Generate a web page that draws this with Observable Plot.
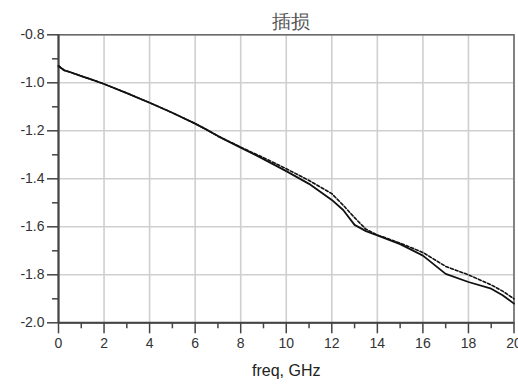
<!DOCTYPE html>
<html><head><meta charset="utf-8">
<script src="https://cdn.jsdelivr.net/npm/d3@7"></script>
<script src="https://cdn.jsdelivr.net/npm/@observablehq/plot@0.6"></script>
<style>html,body{margin:0;padding:0;background:#fff;}</style>
</head><body><div id="chart"></div>
<script>
const title = "插损";
const xLabel = "freq, GHz";
const freq = [0,0.1,0.25,0.5,1,1.5,2,3,4,5,6,6.5,7,8,9,10,11,12,12.5,13,13.5,14,15,16,17,18,19,19.5,20];
const solid = [-0.930,-0.937,-0.948,-0.955,-0.972,-0.988,-1.005,-1.043,-1.083,-1.125,-1.170,-1.195,-1.222,-1.270,-1.318,-1.368,-1.421,-1.488,-1.530,-1.592,-1.618,-1.636,-1.672,-1.720,-1.796,-1.830,-1.858,-1.885,-1.920];
const dashed = [-0.930,-0.937,-0.948,-0.955,-0.972,-0.988,-1.005,-1.043,-1.083,-1.125,-1.170,-1.195,-1.222,-1.268,-1.312,-1.358,-1.407,-1.462,-1.510,-1.562,-1.610,-1.634,-1.668,-1.707,-1.765,-1.800,-1.842,-1.868,-1.900];
const xMajor = [0,2,4,6,8,10,12,14,16,18,20];
const xMinor = [1,3,5,7,9,11,13,15,17,19];
const yMajor = [-0.8,-1.0,-1.2,-1.4,-1.6,-1.8,-2.0];
const yMinor = [-0.9,-1.1,-1.3,-1.5,-1.7,-1.9];

const solidData = freq.map((f,i)=>({f, v: solid[i]}));
const dashedData = freq.map((f,i)=>({f, v: dashed[i]}));

const chart = Plot.plot({
  width: 518, height: 389,
  marginLeft: 58, marginRight: 4.5, marginTop: 34.3, marginBottom: 66.7,
  style: {fontFamily: "'Liberation Sans', Arial, sans-serif", color: "#333", background: "#fff"},
  x: {domain: [0,20]},
  y: {domain: [-2.0,-0.8]},
  marks: [
    Plot.gridX(xMajor, {stroke: "#cfcfcf", strokeOpacity: 1, strokeWidth: 1.6}),
    Plot.gridY(yMajor, {stroke: "#cfcfcf", strokeOpacity: 1, strokeWidth: 1.6}),
    Plot.frame({stroke: "#666", strokeWidth: 1.5}),
    Plot.axisX({ticks: xMajor, tickSize: 11, tickPadding: 4, fontSize: 14, tickFormat: d => String(d), stroke: "#444", strokeWidth: 1.5, label: null}),
    Plot.axisX({ticks: xMinor, tickSize: 6, tickFormat: () => "", stroke: "#444", strokeWidth: 1.5, label: null}),
    Plot.axisY({ticks: yMajor, tickSize: 11, tickPadding: 3, fontSize: 14, tickFormat: d => d.toFixed(1), stroke: "#444", strokeWidth: 1.5, label: null}),
    Plot.axisY({ticks: yMinor, tickSize: 6, tickFormat: () => "", stroke: "#444", strokeWidth: 1.5, label: null}),
    Plot.ruleX([0], {stroke: "#444", strokeWidth: 2}),
    Plot.ruleY([-2.0], {stroke: "#444", strokeWidth: 2}),
    Plot.line(dashedData, {x: "f", y: "v", stroke: "#111", strokeWidth: 1.6, strokeDasharray: "3,2"}),
    Plot.line(solidData, {x: "f", y: "v", stroke: "#111", strokeWidth: 1.8}),
    Plot.text([title], {frameAnchor: "top", dy: -20, dx: 5, fontSize: 19, fill: "#555", text: d => d}),
    Plot.text([xLabel], {frameAnchor: "bottom", dy: 53, fontSize: 16, fill: "#222", text: d => d})
  ]
});
document.getElementById("chart").appendChild(chart);
</script>
</body></html>
